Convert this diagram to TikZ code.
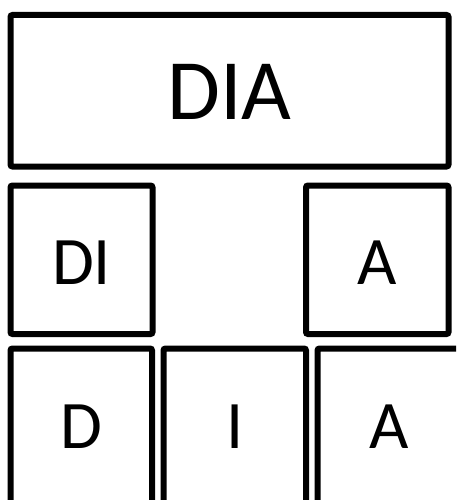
\documentclass[tikz,border=0pt]{standalone}
\usepackage{fontspec}
\setmainfont{Carlito}
\tikzset{
  part/.style={draw, line width=6pt, rounded corners=2pt, inner sep=0pt, outer sep=0pt,
    font=\fontsize{68}{80}\selectfont},
  whole/.style={part, font=\fontsize{86}{100}\selectfont}
}
\begin{document}
\begin{tikzpicture}[x=1pt,y=-1pt]
\useasboundingbox (0,0) rectangle (456,500);
\clip (0,0) rectangle (456,500);
% whole word
\node[whole, minimum width=438pt, minimum height=151.5pt, text height=58pt, text depth=0pt] (dia) at (229.5,90.75) {DIA};
% middle row
\node[part, minimum width=142pt, minimum height=148.5pt, text height=50pt, text depth=0pt] (di) at (81.5,259.75) {DI};
\node[part, minimum width=142.5pt, minimum height=148.5pt, text height=50pt, text depth=0pt] (a) at (377.25,259.75) {A};
% single letters
\node[part, minimum width=141.5pt, minimum height=156pt] (d) at (81.25,426.5) {D};
\node[part, minimum width=142.5pt, minimum height=156pt] (i) at (234.75,426.5) {I};
\node[part, minimum width=142.5pt, minimum height=156pt] (aa) at (388.75,426.5) {A};
\end{tikzpicture}
\end{document}
